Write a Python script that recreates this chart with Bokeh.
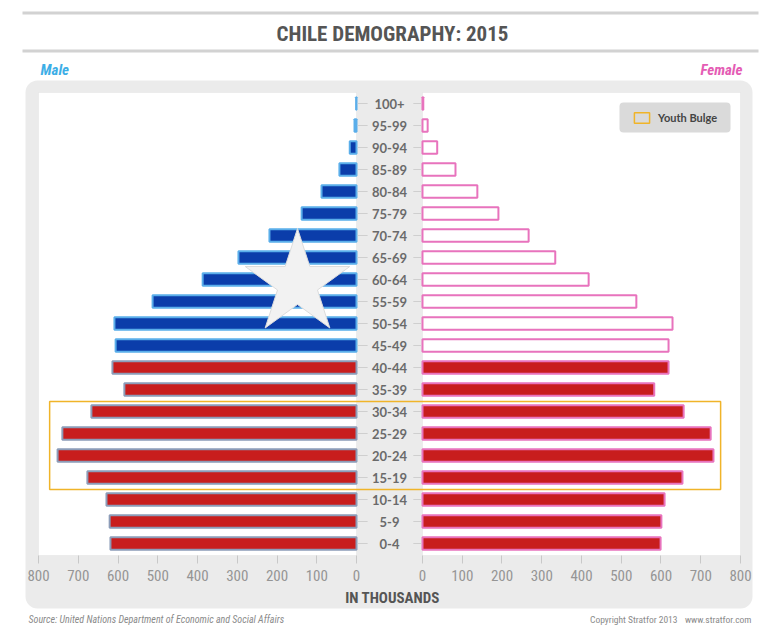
import math
from bokeh.plotting import figure
from bokeh.models import (Range1d, FixedTicker, CustomJSTickFormatter, Label,
                          BoxAnnotation, Legend, LegendItem, ColumnDataSource)
from bokeh.core.properties import value
from bokeh.embed import file_html
from bokeh.resources import INLINE

# ---------------- data (thousands) ----------------
AGES = ["0-4", "5-9", "10-14", "15-19", "20-24", "25-29", "30-34", "35-39",
        "40-44", "45-49", "50-54", "55-59", "60-64", "65-69", "70-74",
        "75-79", "80-84", "85-89", "90-94", "95-99", "100+"]
MALE = [619, 621, 629, 677, 752, 740, 667, 584, 614, 606, 609, 513, 387,
        297, 219, 138, 88, 43, 17, 5, 1]
FEMALE = [599, 601, 609, 654, 732, 725, 657, 583, 619, 619, 629, 538, 418,
          334, 267, 191, 138, 83, 37, 13, 2]
YOUTH_BULGE = ["15-19", "20-24", "25-29", "30-34"]
FLAG_SPLIT = "45-49"           # first age group drawn in the "upper" flag colours
X_TICKS = [0, 100, 200, 300, 400, 500, 600, 700, 800]

# ---------------- geometry helpers ----------------
W, H = 784, 627
K = 0.3975          # px per thousand
CX = 389            # px centre of the label column
G = 83              # half gap (thousands units) for the age label column
ROW0_PX, ROW_PX = 543, 22
AXIS_PX = 555


def xpx(px):
    return (px - CX) / K


def ypx(py):
    return (ROW0_PX - py) / ROW_PX


CONDENSED = "Liberation Sans Narrow, Roboto Condensed, Lato, sans-serif"

p = figure(width=W, height=H, output_backend="svg", toolbar_location=None,
           x_range=Range1d(xpx(0), xpx(W)),
           y_range=Range1d(ypx(H), ypx(0)),
           y_axis_location=None,
           min_border_left=0, min_border_right=0, min_border_top=0,
           min_border_bottom=0)
p.outline_line_color = None
p.background_fill_color = "white"
p.border_fill_color = "white"
p.xgrid.visible = False
p.ygrid.visible = False

# ---------------- panel & plot areas ----------------
p.add_layout(BoxAnnotation(left=xpx(25), right=xpx(752), top=ypx(80), bottom=ypx(608),
                           fill_color="#ebebeb", fill_alpha=1, line_color=None,
                           border_radius=12, level="underlay"))
for l, r in [(-(G + 800), -G), (G, G + 800)]:
    p.add_layout(BoxAnnotation(left=l, right=r, top=ypx(92), bottom=ypx(AXIS_PX),
                               fill_color="white", fill_alpha=1, line_color="#d6d6d6",
                               line_width=1, level="underlay"))
# legend background card
p.add_layout(BoxAnnotation(left=xpx(619), right=xpx(730), top=ypx(102), bottom=ypx(132),
                           fill_color="#dadada", fill_alpha=1, line_color=None,
                           border_radius=4, level="underlay"))

# header decoration
for t, b in [(11, 14), (49, 52)]:
    p.add_layout(BoxAnnotation(left=xpx(22), right=xpx(758), top=ypx(t), bottom=ypx(b),
                               fill_color="#d2d2d2", fill_alpha=1, line_color=None))
p.add_layout(Label(x=xpx(392), y=ypx(33), text="CHILE DEMOGRAPHY: 2015",
                   text_align="center", text_baseline="middle",
                   text_font=CONDENSED, text_font_style="bold",
                   text_font_size="21px", text_color="#555555"))
p.add_layout(Label(x=xpx(40), y=ypx(69), text="Male", text_align="left",
                   text_baseline="middle", text_font=CONDENSED,
                   text_font_style="bold italic", text_font_size="15px",
                   text_color="#3daee6"))
p.add_layout(Label(x=xpx(742), y=ypx(69), text="Female", text_align="right",
                   text_baseline="middle", text_font=CONDENSED,
                   text_font_style="bold italic", text_font_size="15px",
                   text_color="#e45cb4"))

# ---------------- bars ----------------
split = AGES.index(FLAG_SPLIT)
ys = list(range(len(AGES)))
male_src = ColumnDataSource(dict(
    y=ys,
    left=[-(G + v) for v in MALE],
    right=[-G] * len(MALE),
    fill=["#0b3daa" if i >= split else "#c81d1d" for i in ys],
    line=["#5aaeea" if i >= split else "#8c9cb8" for i in ys],
))
female_src = ColumnDataSource(dict(
    y=ys,
    left=[G] * len(FEMALE),
    right=[G + v for v in FEMALE],
    fill=["#ffffff" if i >= split else "#c81d1d" for i in ys],
    line=["#e873bd" for i in ys],
))
p.hbar(y="y", left="left", right="right", height=0.56, fill_color="fill",
       line_color="line", line_width=2, source=male_src)
p.hbar(y="y", left="left", right="right", height=0.56, fill_color="fill",
       line_color="line", line_width=2, source=female_src)

# flag star (decoration)
STAR_CX_PX, STAR_CY_PX, STAR_R_PX = 297, 283, 55
sx, sy = [], []
for k in range(10):
    r = STAR_R_PX if k % 2 == 0 else STAR_R_PX * 0.382
    a = math.radians(90 + 36 * k)
    sx.append(xpx(STAR_CX_PX + r * math.cos(a)))
    sy.append(ypx(STAR_CY_PX - r * math.sin(a)))
p.patch(sx, sy, fill_color="#f2f2f2", line_color="#dcdcdc", line_width=1)

# age labels and small ticks
lab_src = ColumnDataSource(dict(y=ys, age=AGES))
p.text(x=0, y="y", text="age", source=lab_src, text_align="center",
       text_baseline="middle", text_font=value("Lato"), text_font_style="bold",
       text_font_size="13px", text_color="#6a6a6a")
p.segment(x0=-G + 3, x1=-G + 28, y0="y", y1="y", source=lab_src,
          line_color="#cfcfcf", line_width=1)
p.segment(x0=G - 23, x1=G - 3, y0="y", y1="y", source=lab_src,
          line_color="#cfcfcf", line_width=1)

# youth bulge box
yb = [AGES.index(a) for a in YOUTH_BULGE]
yb_male = max(MALE[i] for i in yb)
yb_female = max(FEMALE[i] for i in yb)
bulge = p.quad(left=[-(G + yb_male + 20)], right=[G + yb_female + 18],
               bottom=[min(yb) - 0.55], top=[max(yb) + 0.45],
               fill_color="#f7e6a8", fill_alpha=0, line_color="#f0b429",
               line_width=1.5)

legend = Legend(items=[LegendItem(label="Youth Bulge", renderers=[bulge])],
                location=(632, H - 124),
                background_fill_alpha=0,
                border_line_color=None, padding=0, margin=0, spacing=0,
                glyph_width=19, glyph_height=13, label_standoff=7,
                label_height=14,
                label_text_font="Lato", label_text_font_style="bold",
                label_text_font_size="11px", label_text_color="#444444")
p.add_layout(legend)

# ---------------- x axis (drawn at a fixed place inside the frame) ----------------
ticks = [-(G + v) for v in X_TICKS] + [G + v for v in X_TICKS]
ax = p.xaxis[0]
ax.fixed_location = ypx(AXIS_PX)
ax.ticker = FixedTicker(ticks=ticks)
ax.formatter = CustomJSTickFormatter(args=dict(g=G),
                                     code="return String(Math.round(Math.abs(tick) - g));")
ax.axis_line_color = None
ax.major_tick_line_color = "#c8c8c8"
ax.major_tick_out = 8
ax.major_tick_in = 0
ax.minor_tick_line_color = None
ax.major_label_text_font = CONDENSED
ax.major_label_text_font_size = "15px"
ax.major_label_text_color = "#959595"
ax.major_label_standoff = 6
ax.axis_label = "IN THOUSANDS"
ax.axis_label_text_font = CONDENSED
ax.axis_label_text_font_style = "bold"
ax.axis_label_text_font_size = "15px"
ax.axis_label_text_color = "#555555"
ax.axis_label_standoff = 5

# footer
p.add_layout(Label(x=xpx(28), y=ypx(619),
                   text="Source:  United Nations Department of Economic and Social Affairs",
                   text_align="left", text_baseline="middle", text_font=CONDENSED,
                   text_font_style="italic", text_font_size="10px", text_color="#8a8a8a"))
p.add_layout(Label(x=xpx(677), y=ypx(619), text="Copyright Stratfor 2013",
                   text_align="right", text_baseline="middle", text_font=CONDENSED,
                   text_font_size="9.5px", text_color="#8a8a8a"))
p.add_layout(Label(x=xpx(751), y=ypx(619), text="www.stratfor.com",
                   text_align="right", text_baseline="middle", text_font=CONDENSED,
                   text_font_size="9.5px", text_color="#8a8a8a"))

open("out.html", "w").write(file_html(p, INLINE))
